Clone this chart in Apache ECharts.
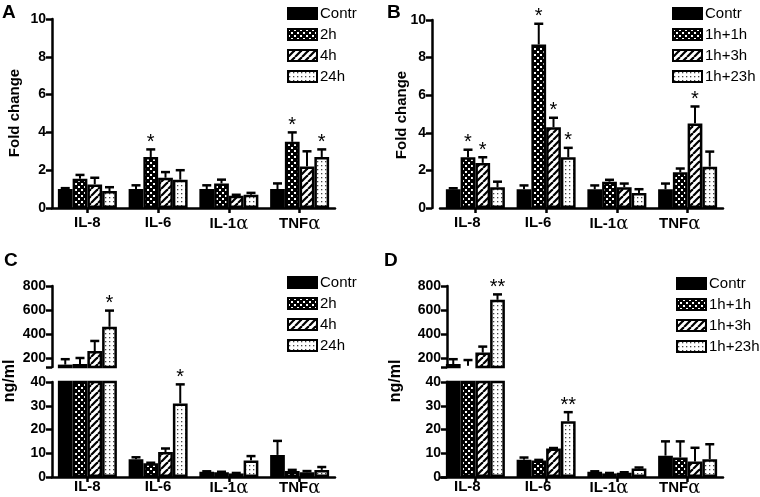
<!DOCTYPE html>
<html><head><meta charset="utf-8">
<script src="https://cdn.jsdelivr.net/npm/echarts@6/dist/echarts.min.js"></script>
<style>html,body{margin:0;padding:0;background:#fff}#c{width:760px;height:497px}</style>
</head><body><div id="c"></div>
<script>
const categories = ['IL-8', 'IL-6', 'IL-1α', 'TNFα'];
const namesAC = ['Contr', '2h', '4h', '24h'];
const namesBD = ['Contr', '1h+1h', '1h+3h', '1h+23h'];

// Panel A (fold change)
const aContr = [1.0, 1.0, 1.0, 1.0];   const aContrErr = [1.05, 1.2, 1.2, 1.3];
const a2h = [1.55, 2.7, 1.3, 3.5];     const a2hErr = [1.75, 3.1, 1.5, 4.0];
const a4h = [1.25, 1.6, 0.65, 2.2];    const a4hErr = [1.6, 1.9, 0.7, 3.0];
const a24h = [0.9, 1.5, 0.7, 2.7];     const a24hErr = [1.1, 2.0, 0.8, 3.1];
const aStars = [['', '', '', ''], ['', '*', '', '*'], ['', '', '', ''], ['', '', '', '*']];

// Panel B (fold change)
const bContr = [1.0, 1.0, 1.0, 1.0];   const bContrErr = [1.05, 1.2, 1.2, 1.3];
const b1h1h = [2.7, 8.7, 1.4, 1.9];    const b1h1hErr = [3.1, 9.8, 1.5, 2.1];
const b1h3h = [2.4, 4.3, 1.1, 4.5];    const b1h3hErr = [2.7, 4.8, 1.3, 5.4];
const b1h23h = [1.1, 2.7, 0.8, 2.2];   const b1h23hErr = [1.4, 3.2, 1.0, 3.0];
const bStars = [['', '', '', ''], ['*', '*', '', ''], ['*', '*', '', '*'], ['', '*', '', '']];

// Panel C (ng/ml)
const cContr = [145, 7.5, 2.2, 9.3];   const cContrErr = [190, 8.3, 2.4, 15.2];
const c2h = [150, 5.8, 2.0, 2.5];      const c2hErr = [200, 6.0, 2.2, 3.0];
const c4h = [258, 10.5, 1.5, 2.0];     const c4hErr = [342, 12.0, 1.7, 2.5];
const c24h = [460, 31, 7.0, 3.0];      const c24hErr = [595, 39, 8.8, 4.2];
const cStars = [['', '', '', ''], ['', '', '', ''], ['', '', '', ''], ['*', '*', '', '']];

// Panel D (ng/ml)
const dContr = [150, 7.3, 2.2, 9.0];   const dContrErr = [190, 8.2, 2.4, 15.0];
const d1h1h = [135, 7.0, 1.5, 8.2];    const d1h1hErr = [183, 7.2, 1.7, 15.0];
const d1h3h = [245, 12.0, 1.8, 6.5];   const d1h3hErr = [295, 12.2, 2.0, 12.3];
const d1h23h = [685, 23.5, 3.6, 7.5];  const d1h23hErr = [730, 27.3, 4.0, 13.8];
const dStars = [['', '', '', ''], ['', '', '', ''], ['', '', '', ''], ['**', '**', '', '']];

const upperTicks = [200, 400, 600, 800];

const FONT = 'Liberation Sans, Arial, Helvetica, sans-serif';
const GAP = 0.166;

function mk(w, h, bg, draw) {
  const c = document.createElement('canvas'); c.width = w; c.height = h;
  const g = c.getContext('2d'); g.fillStyle = bg; g.fillRect(0, 0, w, h); draw(g); return c;
}
const checker = mk(6, 6, '#000', g => { g.fillStyle = '#fff'; g.fillRect(0, 0, 2, 2); g.fillRect(3, 3, 2, 2); });
const hatch = mk(7, 7, '#fff', g => {
  g.strokeStyle = '#000'; g.lineWidth = 2.2;
  [-7, 0, 7].forEach(o => { g.beginPath(); g.moveTo(o, 7); g.lineTo(o + 7, 0); g.stroke(); });
});
const dots = mk(4, 4, '#fff', g => { g.fillStyle = '#444'; g.fillRect(1, 1, 1.3, 1.3); });
const fills = ['#000', { image: checker, repeat: 'repeat' }, { image: hatch, repeat: 'repeat' }, { image: dots, repeat: 'repeat' }];

const grids = [], xAxes = [], yAxes = [], series = [], legends = [], graphics = [];

function addGrid(g, showX, yCfg) {
  const idx = grids.length;
  grids.push(g);
  xAxes.push({
    type: 'category', gridIndex: idx, data: categories, show: showX.show,
    axisLine: { show: showX.show, lineStyle: { color: '#000', width: 2.5 } },
    axisTick: { show: true, alignWithLabel: true, length: 5, lineStyle: { color: '#000', width: 2.5 } },
    axisLabel: {
      show: true, interval: 0, margin: showX.margin, color: '#000', fontWeight: 'bold', fontSize: 15, fontFamily: FONT,
      padding: showX.pad || 0,
      formatter: v => v.indexOf('α') >= 0 ? v.replace('α', '') + '{a|α}' : v,
      rich: { a: { fontWeight: 'normal', fontSize: 18, fontFamily: 'DejaVu Serif, serif', color: '#000' } }
    }
  });
  yAxes.push(Object.assign({
    type: 'value', gridIndex: idx,
    axisLine: { show: true, lineStyle: { color: '#000', width: 2.5 } },
    axisTick: { show: true, length: 6, lineStyle: { color: '#000', width: 2.5 } },
    splitLine: { show: false },
    axisLabel: { color: '#000', fontWeight: 'bold', fontSize: 14, fontFamily: FONT, margin: 6 }
  }, yCfg));
  return idx;
}

function addBars(gi, names, vals, errs, stars, barFilter, errFilter) {
  names.forEach((n, k) => {
    series.push({
      type: 'bar', name: n, xAxisIndex: gi, yAxisIndex: gi,
      data: vals[k].map(v => barFilter(v) ? v : null),
      barGap: '0%', barCategoryGap: (GAP * 100) + '%',
      itemStyle: { color: fills[k], borderColor: '#000', borderWidth: 2.5 },
      emphasis: { disabled: true }, animation: false, z: 2
    });
    const vv = vals[k], ee = errs[k], ss = stars[k];
    series.push({
      type: 'custom', xAxisIndex: gi, yAxisIndex: gi, animation: false, z: 5, silent: true,
      data: categories.map((c, i) => [i, vv[i], ee[i]]),
      encode: { x: 0, y: 1 },
      renderItem: function (params, api) {
        const i = params.dataIndex;
        const v = vv[i], e = ee[i];
        if (!errFilter(v)) return null;
        const band = api.size([1, 0])[0];
        const w = band * (1 - GAP) / 4;
        const p0 = api.coord([i, v]);
        const p1 = api.coord([i, e]);
        const cx = p0[0] + (k - 1.5) * w;
        const ch = [];
        if (e > v) {
          ch.push({ type: 'line', shape: { x1: cx, y1: p0[1], x2: cx, y2: p1[1] }, style: { stroke: '#000', lineWidth: 2 } });
          ch.push({ type: 'line', shape: { x1: cx - 4.5, y1: p1[1], x2: cx + 4.5, y2: p1[1] }, style: { stroke: '#000', lineWidth: 2.5 } });
        }
        if (ss[i]) ch.push({ type: 'text', style: { text: ss[i], x: cx, y: Math.min(p0[1], p1[1]) + 3, align: 'center', verticalAlign: 'bottom', font: '20px ' + FONT, fill: '#000' } });
        return { type: 'group', children: ch };
      }
    });
  });
}

function addLegend(left, top, names) {
  legends.push({
    left: left, top: top, orient: 'vertical', data: names, icon: 'rect', itemWidth: 29, itemHeight: 11,
    itemGap: 6, padding: 0, selectedMode: false,
    textStyle: { color: '#000', fontSize: 15, fontFamily: FONT, padding: [0, 0, 0, -2] }
  });
}

const all = v => true;
const upper = v => v > 40;
const lower = v => v <= 40;

// A
let g = addGrid({ left: 52, top: 19, width: 283, height: 189 }, { show: true, margin: 7 },
  { min: 0, max: 10, interval: 2 });
addBars(g, namesAC, [aContr, a2h, a4h, a24h], [aContrErr, a2hErr, a4hErr, a24hErr], aStars, all, all);
addLegend(287, 6, namesAC);

// B
g = addGrid({ left: 440, top: 20, width: 283, height: 188 }, { show: true, margin: 7, pad: [0, 16, 0, 0] },
  { min: 0, max: 10, interval: 2, offset: 8 });
addBars(g, namesBD, [bContr, b1h1h, b1h3h, b1h23h], [bContrErr, b1h1hErr, b1h3hErr, b1h23hErr], bStars, all, all);
addLegend(672, 6, namesBD);

// C
const upMin = 125;
g = addGrid({ left: 52, top: 286, width: 283, height: 81 }, { show: false, margin: 0 },
  { min: upMin, max: 800, axisTick: { show: true, length: 6, lineStyle: { color: '#000', width: 2.5 }, customValues: [upMin].concat(upperTicks) },
    axisLabel: { color: '#000', fontWeight: 'bold', fontSize: 14, fontFamily: FONT, margin: 6, customValues: upperTicks } });
addBars(g, namesAC, [cContr, c2h, c4h, c24h], [cContrErr, c2hErr, c4hErr, c24hErr], cStars, upper, upper);
g = addGrid({ left: 52, top: 382, width: 283, height: 95 }, { show: true, margin: 2 },
  { min: 0, max: 40, interval: 10 });
addBars(g, namesAC, [cContr, c2h, c4h, c24h], [cContrErr, c2hErr, c4hErr, c24hErr], cStars, all, lower);
addLegend(287, 275, namesAC);

// D
g = addGrid({ left: 440, top: 286, width: 283, height: 81 }, { show: false, margin: 0 },
  { min: upMin, max: 800, offset: -7, axisTick: { show: true, length: 6, lineStyle: { color: '#000', width: 2.5 }, customValues: [upMin].concat(upperTicks) },
    axisLabel: { color: '#000', fontWeight: 'bold', fontSize: 14, fontFamily: FONT, margin: 6, customValues: upperTicks } });
addBars(g, namesBD, [dContr, d1h1h, d1h3h, d1h23h], [dContrErr, d1h1hErr, d1h3hErr, d1h23hErr], dStars, upper, upper);
g = addGrid({ left: 440, top: 382, width: 283, height: 95 }, { show: true, margin: 2, pad: [0, 16, 0, 0] },
  { min: 0, max: 40, interval: 10, offset: -7 });
addBars(g, namesBD, [dContr, d1h1h, d1h3h, d1h23h], [dContrErr, d1h1hErr, d1h3hErr, d1h23hErr], dStars, all, lower);
addLegend(676, 276, namesBD);

function label(text, x, y, size, rot) {
  graphics.push({ type: 'text', x: x, y: y, rotation: rot || 0,
    style: { text: text, font: 'bold ' + size + 'px ' + FONT, fill: '#000', align: rot ? 'center' : 'left', verticalAlign: rot ? 'middle' : 'top' } });
}
label('A', 2, 3, 19); label('B', 387, 3, 19); label('C', 4, 251, 19); label('D', 384, 251, 19);
label('Fold change', 15, 113, 15, Math.PI / 2);
label('Fold change', 402, 115, 15, Math.PI / 2);
label('ng/ml', 10, 381, 16, Math.PI / 2);
label('ng/ml', 396, 381, 16, Math.PI / 2);

const chart = echarts.init(document.getElementById('c'), null, { renderer: 'canvas' });
chart.setOption({
  animation: false, backgroundColor: '#fff',
  grid: grids, xAxis: xAxes, yAxis: yAxes, series: series, legend: legends, graphic: graphics
});
</script></body></html>
